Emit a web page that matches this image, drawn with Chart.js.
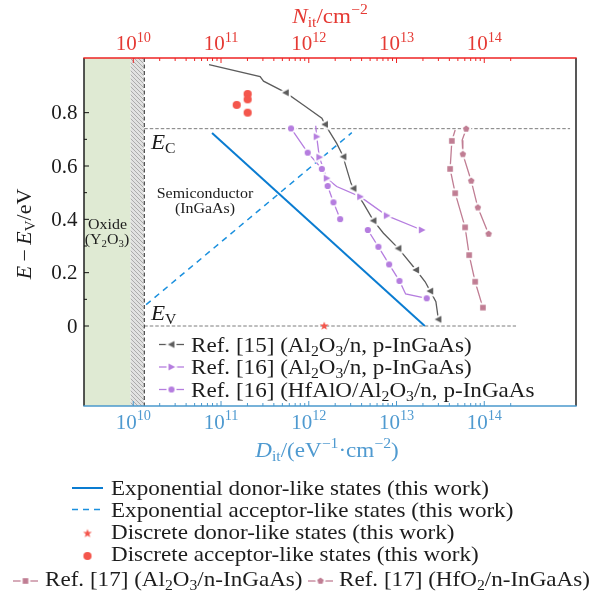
<!DOCTYPE html>
<html><head><meta charset="utf-8">
<script src="https://cdn.jsdelivr.net/npm/chart.js@4.4.1/dist/chart.umd.min.js"></script>
<style>html,body{margin:0;padding:0;background:#fff;overflow:hidden}canvas{display:block}</style>
</head><body>
<canvas id="chart" width="602" height="597"></canvas>
<script>
// ================= DATA =================
// axis range (D_it / N_it, log scale) and energy range
const xRangeMin = 2.744e9, xRangeMax = 1.11e15;
const yRangeMin = -0.3, yRangeMax = 1.005;
const xMajorTicks = [1e10, 1e11, 1e12, 1e13, 1e14];
const xTickLabels = ['10^{10}', '10^{11}', '10^{12}', '10^{13}', '10^{14}'];
const yMajorTicks = [0, 0.2, 0.4, 0.6, 0.8];
const yTickLabels = ['0', '0.2', '0.4', '0.6', '0.8'];
const yMinorTicks = [0.1, 0.3, 0.5, 0.7];

// band edges and regions
const bandEC = 0.74, bandEV = 0;
const oxideEdgeD = 9.33e9, interfaceD = 1.334e10;
const ecEndD = 9.5e14, evEndD = 2.3e14;

// Exponential donor-like states (this work)
const donorD = [7.9e10, 2.1e13];
const donorE = [0.724, 0];
// Exponential acceptor-like states (this work)
const acceptorD = [1.4e10, 3.09e12];
const acceptorE = [0.08, 0.725];
// Discrete donor-like states (this work)
const discDonorD = [1.5e12];
const discDonorE = [0.0];
// Discrete acceptor-like states (this work)
const discAccD = [1.51e11, 2.01e11, 2.01e11, 2.01e11];
const discAccE = [0.829, 0.870, 0.850, 0.800];

// Ref. [15] (Al2O3/n, p-InGaAs)
const ref15CurveD = [7.3e10, 2.79e11, 3.05e11, 5.47e11, 8.67e11, 1.41e12, 1.53e12, 2.08e12, 2.48e12, 2.59e12, 3.03e12, 3.23e12, 4.19e12, 5.46e12, 7.1e12, 1.05e13, 1.67e13, 2.12e13, 2.42e13, 2.81e13, 3.0e13];
const ref15CurveE = [0.98, 0.935, 0.918, 0.875, 0.829, 0.779, 0.756, 0.685, 0.635, 0.61, 0.535, 0.516, 0.46, 0.395, 0.348, 0.291, 0.21, 0.166, 0.131, 0.091, 0.025];
const ref15MarkD = [5.47e11, 1.53e12, 2.48e12, 3.23e12, 5.46e12, 1.05e13, 1.67e13, 2.42e13, 3.0e13];
const ref15MarkE = [0.875, 0.756, 0.635, 0.516, 0.395, 0.291, 0.21, 0.131, 0.025];

// Ref. [16] (Al2O3/n, p-InGaAs)
const ref16aCurveD = [1.2e12, 1.23e12, 1.32e12, 1.6e12, 2.08e12, 3.85e12, 7.74e12, 1.94e13];
const ref16aCurveE = [0.751, 0.71, 0.633, 0.554, 0.523, 0.485, 0.414, 0.36];
const ref16aMarkD = [1.23e12, 1.32e12, 1.6e12, 3.85e12, 7.74e12, 1.94e13];
const ref16aMarkE = [0.71, 0.633, 0.554, 0.485, 0.414, 0.36];

// Ref. [16] (HfAlO/Al2O3/n, p-InGaAs)
const ref16bCurveD = [6.28e11, 9.73e11, 1.41e12, 1.64e12, 1.91e12, 2.28e12, 3.3e12, 4.71e12, 6.22e12, 8.24e12, 1.08e13, 1.27e13, 2.21e13];
const ref16bCurveE = [0.741, 0.65, 0.589, 0.525, 0.464, 0.401, null, 0.36, 0.297, 0.231, 0.169, 0.12, 0.104];
const ref16bMarkD = [6.28e11, 9.73e11, 1.41e12, 1.64e12, 1.91e12, 2.28e12, 4.71e12, 6.22e12, 8.24e12, 1.08e13, 2.21e13];
const ref16bMarkE = [0.741, 0.65, 0.589, 0.525, 0.464, 0.401, 0.36, 0.297, 0.231, 0.169, 0.104];

// Ref. [17] (Al2O3/n-InGaAs)
const ref17aCurveD = [4.66e13, 4.27e13, 4.08e13, 4.66e13, 6.05e13, 6.73e13, 7.87e13, 9.64e13];
const ref17aCurveE = [0.735, 0.694, 0.589, 0.498, 0.37, 0.266, 0.166, 0.069];
const ref17aMarkD = [4.27e13, 4.08e13, 4.66e13, 6.05e13, 6.73e13, 7.87e13, 9.64e13];
const ref17aMarkE = [0.694, 0.589, 0.498, 0.37, 0.266, 0.166, 0.069];

// Ref. [17] (HfO2/n-InGaAs)
const ref17bCurveD = [6.22e13, 5.6e13, 5.7e13, 7.1e13, 8.45e13, 1.12e14];
const ref17bCurveE = [0.739, 0.697, 0.644, 0.544, 0.444, 0.345];
const ref17bMarkD = [6.22e13, 5.7e13, 7.1e13, 8.45e13, 1.12e14];
const ref17bMarkE = [0.739, 0.644, 0.544, 0.444, 0.345];

// texts
const topTitle = '$N$_{it}/cm^{\u22122}';
const bottomTitle = '$D$_{it}/(eV^{\u22121}\u00b7cm^{\u22122})';
const yTitle = '$E$\u2009\u2212\u2009$E$_{V}/eV';
const innerLegendLabels = ['Ref. [15] (Al_{2}O_{3}/n, p-InGaAs)', 'Ref. [16] (Al_{2}O_{3}/n, p-InGaAs)', 'Ref. [16] (HfAlO/Al_{2}O_{3}/n, p-InGaAs'];
const bottomLegendLabels = ['Exponential donor-like states (this work)', 'Exponential acceptor-like states (this work)', 'Discrete donor-like states (this work)', 'Discrete acceptor-like states (this work)', 'Ref. [17] (Al_{2}O_{3}/n-InGaAs)', 'Ref. [17] (HfO_{2}/n-InGaAs)'];

// ================= STYLE =================
const C = {
  grey: '#5c5c5c', purple: '#b57ddf', mauve: '#c07d93', blue: '#0a7cd1', blueD: '#1b90de',
  red: '#f4564c', axRed: '#ee2323', lbRed: '#e53a34', axBlue: '#4a98cc', lbBlue: '#4f9ad0', text: '#1c1c1c'
};
const FAM = "'Liberation Serif','Times New Roman',serif";
const SX = 1.1;

function fontStr(sz, it) { return (it ? 'italic ' : '') + sz.toFixed(2) + 'px ' + FAM; }
function parseRich(s) {
  const out = []; let buf = '', italic = false, i = 0;
  const flush = () => { if (buf) { out.push([buf, italic ? 'i' : '']); buf = ''; } };
  while (i < s.length) {
    const ch = s[i];
    if ((ch === '_' || ch === '^') && s[i + 1] === '{') {
      flush(); const j = s.indexOf('}', i);
      out.push([s.slice(i + 2, j), ch === '_' ? 's' : 'p']); i = j + 1; continue;
    }
    if (ch === '$') { flush(); italic = !italic; i++; continue; }
    buf += ch; i++;
  }
  flush(); return out;
}
function drawRich(ctx, str, x, y, size, color, align, sx) {
  sx = sx || SX; align = align || 'left';
  const parts = parseRich(str);
  let w = 0;
  const items = parts.map(([t, f]) => {
    const small = f === 's' || f === 'p';
    const font = fontStr(small ? size * 0.68 : size, f === 'i');
    ctx.font = font;
    const tw = ctx.measureText(t).width * sx;
    const dy = f === 's' ? size * 0.2 : f === 'p' ? -size * 0.4 : 0;
    w += tw;
    return { t, font, tw, dy };
  });
  let cx = align === 'center' ? x - w / 2 : align === 'right' ? x - w : x;
  ctx.save();
  ctx.fillStyle = color; ctx.textBaseline = 'alphabetic'; ctx.textAlign = 'left';
  for (const it of items) {
    ctx.save(); ctx.font = it.font; ctx.translate(cx, y + it.dy); ctx.scale(sx, 1);
    ctx.fillText(it.t, 0, 0); ctx.restore();
    cx += it.tw;
  }
  ctx.restore();
}

// marker images (with white halo to give the line a gap around the symbol)
const shapePaths = {
  triLeft: (g, s) => { g.moveTo(-s, 0); g.lineTo(s * 0.8, -s * 0.95); g.lineTo(s * 0.8, s * 0.95); },
  triRight: (g, s) => { g.moveTo(s, 0); g.lineTo(-s * 0.8, -s * 0.95); g.lineTo(-s * 0.8, s * 0.95); },
  circle: (g, s) => { g.arc(0, 0, s, 0, Math.PI * 2); },
  square: (g, s) => { g.rect(-s, -s, 2 * s, 2 * s); },
  pentagon: (g, s) => { for (let k = 0; k < 5; k++) { const a = -Math.PI / 2 + k * 2 * Math.PI / 5; const px = s * Math.cos(a), py = s * Math.sin(a); k ? g.lineTo(px, py) : g.moveTo(px, py); } },
  star: (g, s) => { for (let k = 0; k < 10; k++) { const r = k % 2 ? s * 0.42 : s; const a = -Math.PI / 2 + k * Math.PI / 5; const px = r * Math.cos(a), py = r * Math.sin(a); k ? g.lineTo(px, py) : g.moveTo(px, py); } }
};
function makeMarker(shape, color, s, halo) {
  let dim = Math.ceil(2 * (s + halo) + 4); if (dim % 2) dim++;
  const c = document.createElement('canvas'); c.width = c.height = dim;
  const g = c.getContext('2d'); g.translate(dim / 2, dim / 2);
  if (halo) { g.beginPath(); shapePaths[shape](g, s); g.closePath(); g.lineWidth = 2 * halo; g.lineJoin = 'round'; g.strokeStyle = '#fff'; g.stroke(); }
  g.beginPath(); shapePaths[shape](g, s); g.closePath(); g.fillStyle = color; g.fill();
  return c;
}
const M = {
  ref15: makeMarker('triLeft', C.grey, 3.7, 2),
  ref16a: makeMarker('triRight', C.purple, 3.7, 2),
  ref16b: makeMarker('circle', C.purple, 3.1, 2),
  ref17a: makeMarker('square', C.mauve, 2.8, 2),
  ref17b: makeMarker('pentagon', C.mauve, 3.4, 2),
  star: makeMarker('star', C.red, 4.6, 0),
  dot: makeMarker('circle', C.red, 4.1, 0)
};

function makeHatch(ctx) {
  const c = document.createElement('canvas'); c.width = c.height = 4;
  const g = c.getContext('2d');
  g.fillStyle = '#e2e2e2'; g.fillRect(0, 0, 4, 4);
  g.strokeStyle = '#a6a6a6'; g.lineWidth = 0.9;
  g.beginPath(); g.moveTo(-1, -1); g.lineTo(5, 5); g.moveTo(-1, 3); g.lineTo(1, 5); g.moveTo(3, -1); g.lineTo(5, 1); g.stroke();
  return ctx.createPattern(c, 'repeat');
}

// ================= DATASETS =================
const pts = (D, E) => D.map((d, i) => ({ x: d, y: E[i] }));
function curveDS(D, E, color, width, dash, order) {
  return { data: pts(D, E), showLine: true, borderColor: color, backgroundColor: color, borderWidth: width,
    borderDash: dash || [], pointRadius: 0, pointHoverRadius: 0, order, tension: 0, spanGaps: false, fill: false };
}
function markDS(D, E, img, order) {
  return { data: pts(D, E), showLine: false, pointStyle: img, pointRadius: 5, pointHoverRadius: 5, order };
}
const datasets = [
  markDS(discAccD, discAccE, M.dot, 0),
  markDS(discDonorD, discDonorE, M.star, 0),
  markDS(ref15MarkD, ref15MarkE, M.ref15, 1),
  markDS(ref16aMarkD, ref16aMarkE, M.ref16a, 1),
  markDS(ref16bMarkD, ref16bMarkE, M.ref16b, 1),
  markDS(ref17aMarkD, ref17aMarkE, M.ref17a, 1),
  markDS(ref17bMarkD, ref17bMarkE, M.ref17b, 1),
  curveDS(ref15CurveD, ref15CurveE, C.grey, 1.3, null, 2),
  curveDS(ref16aCurveD, ref16aCurveE, C.purple, 1.3, null, 2),
  curveDS(ref16bCurveD, ref16bCurveE, C.purple, 1.3, null, 2),
  curveDS(ref17aCurveD, ref17aCurveE, C.mauve, 1.3, null, 2),
  curveDS(ref17bCurveD, ref17bCurveE, C.mauve, 1.3, null, 2),
  curveDS(donorD, donorE, C.blue, 2, null, 3),
  curveDS(acceptorD, acceptorE, C.blueD, 1.5, [6, 5], 3)
];

// ================= DECORATION PLUGIN =================
function seg(ctx, x1, y1, x2, y2) { ctx.beginPath(); ctx.moveTo(x1, y1); ctx.lineTo(x2, y2); ctx.stroke(); }
const xMinorTicks = [];
for (let d = 0; d < 4; d++) for (let m = 2; m <= 9; m++) xMinorTicks.push(m * xMajorTicks[d]);
xMinorTicks.push(2 * xMajorTicks[4]);

const decor = {
  id: 'decor',
  beforeDatasetsDraw(chart) {
    const { ctx, chartArea: a, scales: { x, y } } = chart;
    ctx.save();
    const xo = x.getPixelForValue(oxideEdgeD), xi = x.getPixelForValue(interfaceD);
    ctx.fillStyle = '#dfead3'; ctx.fillRect(a.left, a.top, xo - a.left, a.bottom - a.top);
    ctx.fillStyle = makeHatch(ctx); ctx.fillRect(xo, a.top, xi - xo - 0.6, a.bottom - a.top);
    ctx.strokeStyle = '#7c7c7c'; ctx.lineWidth = 1; ctx.setLineDash([3.5, 2]);
    const yc = y.getPixelForValue(bandEC), yv = y.getPixelForValue(bandEV);
    seg(ctx, xi, yc, x.getPixelForValue(ecEndD), yc);
    seg(ctx, xi, yv, x.getPixelForValue(evEndD), yv);
    ctx.strokeStyle = '#1e1e1e'; ctx.setLineDash([4, 2.5]);
    seg(ctx, xi, a.top, xi, a.bottom);
    ctx.restore();
    // region annotations
    drawRich(ctx, 'Oxide', 107.5, 228.5, 14.5, C.text, 'center');
    drawRich(ctx, '(Y_{2}O_{3})', 107, 244, 14.5, C.text, 'center');
    drawRich(ctx, 'Semiconductor', 205, 197.5, 14.5, C.text, 'center');
    drawRich(ctx, '(InGaAs)', 205, 212.5, 14.5, C.text, 'center');
    drawRich(ctx, '$E$_{C}', 151, 149, 21, C.text, 'left');
    drawRich(ctx, '$E$_{V}', 151, 319.5, 21, C.text, 'left');
  },
  afterDraw(chart) {
    const { ctx, chartArea: a, scales: { x, x2, y } } = chart;
    ctx.save();
    // frame
    ctx.lineWidth = 1.4;
    ctx.strokeStyle = '#111'; seg(ctx, a.left, a.top, a.left, a.bottom); seg(ctx, a.right, a.top, a.right, a.bottom);
    ctx.strokeStyle = C.axRed; seg(ctx, a.left - 0.7, a.top, a.right + 0.7, a.top);
    ctx.strokeStyle = C.axBlue; seg(ctx, a.left - 0.7, a.bottom, a.right + 0.7, a.bottom);
    // ticks (inward)
    ctx.lineWidth = 1;
    xMajorTicks.forEach(v => {
      const pt = x2.getPixelForValue(v), pb = x.getPixelForValue(v);
      ctx.strokeStyle = C.axRed; seg(ctx, pt, a.top, pt, a.top + 5);
      ctx.strokeStyle = C.axBlue; seg(ctx, pb, a.bottom, pb, a.bottom - 5);
    });
    xMinorTicks.forEach(v => {
      const pt = x2.getPixelForValue(v), pb = x.getPixelForValue(v);
      ctx.strokeStyle = C.axRed; seg(ctx, pt, a.top, pt, a.top + 3);
      ctx.strokeStyle = C.axBlue; seg(ctx, pb, a.bottom, pb, a.bottom - 3);
    });
    ctx.strokeStyle = '#111';
    yMajorTicks.forEach(v => { const p = y.getPixelForValue(v); seg(ctx, a.left, p, a.left + 5, p); });
    yMinorTicks.forEach(v => { const p = y.getPixelForValue(v); seg(ctx, a.left, p, a.left + 3, p); });
    ctx.restore();
    // tick labels
    xMajorTicks.forEach((v, i) => {
      drawRich(ctx, xTickLabels[i], x2.getPixelForValue(v), 50, 21, C.lbRed, 'center', 1);
      drawRich(ctx, xTickLabels[i], x.getPixelForValue(v), 428.5, 21, C.lbBlue, 'center', 1);
    });
    yMajorTicks.forEach((v, i) => drawRich(ctx, yTickLabels[i], 77.5, y.getPixelForValue(v) + 6.5, 21, C.text, 'right', 1));
    // axis titles
    drawRich(ctx, topTitle, 330, 22.5, 21, C.lbRed, 'center');
    drawRich(ctx, bottomTitle, 327, 456.5, 21, C.lbBlue, 'center');
    ctx.save(); ctx.translate(30.5, 234); ctx.rotate(-Math.PI / 2);
    drawRich(ctx, yTitle, 0, 0, 20, C.text, 'center'); ctx.restore();

    // inner legend
    const inner = [[C.grey, M.ref15, 344.5], [C.purple, M.ref16a, 367], [C.purple, M.ref16b, 389.5]];
    inner.forEach(([col, img, yy], i) => {
      ctx.save(); ctx.strokeStyle = col; ctx.lineWidth = 1.3; seg(ctx, 159, yy, 184, yy); ctx.restore();
      ctx.drawImage(img, 171.5 - img.width / 2, yy - img.height / 2);
      drawRich(ctx, innerLegendLabels[i], 191, yy + 7, 21, C.text, 'left');
    });

    // bottom legend
    ctx.save(); ctx.strokeStyle = C.blue; ctx.lineWidth = 2; seg(ctx, 72, 488, 103, 488);
    ctx.strokeStyle = C.blueD; ctx.lineWidth = 1.5; ctx.setLineDash([6, 5]); seg(ctx, 72, 509.5, 103, 509.5); ctx.restore();
    ctx.drawImage(M.star, 87.5 - M.star.width / 2, 533.5 - M.star.height / 2);
    ctx.drawImage(M.dot, 87.5 - M.dot.width / 2, 556 - M.dot.height / 2);
    ctx.save(); ctx.strokeStyle = C.mauve; ctx.lineWidth = 1.3; seg(ctx, 13, 581, 38, 581); seg(ctx, 308, 581, 333, 581); ctx.restore();
    ctx.drawImage(M.ref17a, 25.5 - M.ref17a.width / 2, 581 - M.ref17a.height / 2);
    ctx.drawImage(M.ref17b, 320.5 - M.ref17b.width / 2, 581 - M.ref17b.height / 2);
    const bl = [[111, 495], [111, 517], [111, 539], [111, 561], [45, 586], [339, 586]];
    bl.forEach(([xx, yy], i) => drawRich(ctx, bottomLegendLabels[i], xx, yy, 21, C.text, 'left'));
  }
};

// ================= CHART =================
const logAxis = (pos, h) => ({
  type: 'logarithmic', position: pos, axis: 'x', min: xRangeMin, max: xRangeMax,
  ticks: { display: false }, grid: { display: false, drawTicks: false }, border: { display: false },
  afterFit: s => { s.height = h; }
});
new Chart(document.getElementById('chart').getContext('2d'), {
  type: 'scatter',
  data: { datasets },
  options: {
    responsive: false, animation: false, devicePixelRatio: 1,
    layout: { padding: { left: 0, right: 26, top: 0, bottom: 0 }, autoPadding: false },
    plugins: { legend: { display: false }, tooltip: { enabled: false } },
    events: [],
    scales: {
      x: logAxis('bottom', 191),
      x2: logAxis('top', 58),
      y: { type: 'linear', position: 'left', min: yRangeMin, max: yRangeMax,
        ticks: { display: false }, grid: { display: false, drawTicks: false }, border: { display: false },
        afterFit: s => { s.width = 84; } }
    }
  },
  plugins: [decor]
});
</script>
</body></html>
